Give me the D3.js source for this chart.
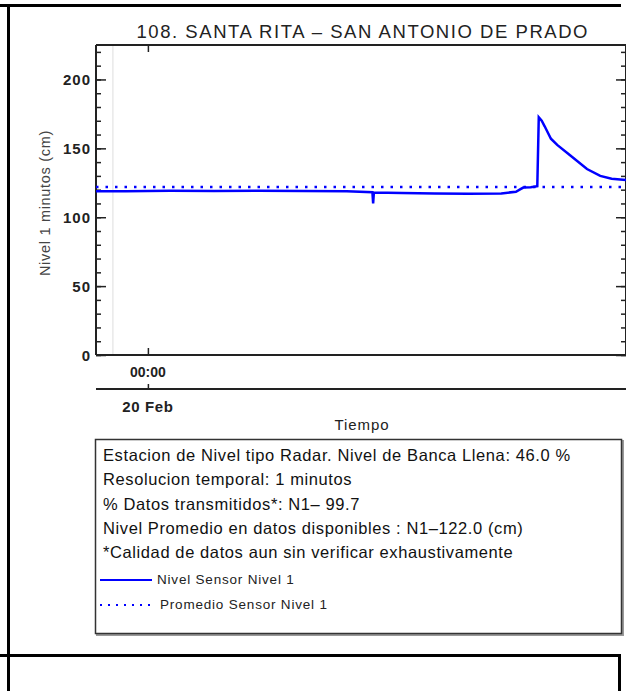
<!DOCTYPE html>
<html><head><meta charset="utf-8">
<script src="https://cdn.jsdelivr.net/npm/d3@7"></script>
<style>body{margin:0;background:#fff}svg{display:block;font-family:"Liberation Sans",Arial,sans-serif}</style>
</head><body><svg id="c" width="626" height="691"></svg>
<script>
const titleText = "108. SANTA RITA \u2013 SAN ANTONIO DE PRADO";
const yLabel = "Nivel 1 minutos (cm)";
const xLabel = "Tiempo";
const timeDomain = ["2024-02-19T21:39", "2024-02-20T21:39"];
const dataStart = "2024-02-19T22:25";
const yTicks = [0, 50, 100, 150, 200];
const xTickTime = ["2024-02-20T00:00"];
const xTickLabel = ["00:00"];
const dateLabel = ["20 Feb"];
const times = ["2024-02-19T21:39","2024-02-19T23:00","2024-02-20T01:00","2024-02-20T03:00","2024-02-20T05:00","2024-02-20T07:00","2024-02-20T09:00","2024-02-20T10:10","2024-02-20T10:12","2024-02-20T10:14","2024-02-20T11:30","2024-02-20T13:00","2024-02-20T14:30","2024-02-20T16:00","2024-02-20T16:40","2024-02-20T16:50","2024-02-20T17:00","2024-02-20T17:20","2024-02-20T17:38","2024-02-20T17:42","2024-02-20T17:50","2024-02-20T17:58","2024-02-20T18:15","2024-02-20T18:32","2024-02-20T19:07","2024-02-20T19:53","2024-02-20T20:29","2024-02-20T21:00","2024-02-20T21:39"];
const nivel = [118.8,118.8,119.2,119.0,119.3,119.0,118.8,118.2,110.0,118.0,117.6,117.2,117.0,117.3,118.5,120.0,121.5,121.8,122.5,172.5,170.0,166.0,157.0,152.5,145.0,135.0,130.0,128.0,127.0];
const promedio = 122.0;
const infoLines = ["Estacion de Nivel tipo Radar. Nivel de Banca Llena: 46.0 %","Resolucion temporal: 1 minutos","% Datos transmitidos*: N1\u2013 99.7","Nivel Promedio en datos disponibles : N1\u2013122.0 (cm)","*Calidad de datos aun sin verificar exhaustivamente"];
const legendNames = ["Nivel Sensor Nivel 1","Promedio Sensor Nivel 1"];

const svg = d3.select("#c");
const P = d3.isoParse;
const L = 96, R = 626, T = 45, B = 355;
const x = d3.scaleTime().domain(timeDomain.map(P)).range([L, R]);
const y = d3.scaleLinear().domain([0, 225]).range([B, T]);
const axisCol = "#222";

// outer frame
svg.append("line").attr("x1",0).attr("x2",621).attr("y1",5.5).attr("y2",5.5).attr("stroke","#000").attr("stroke-width",3);
svg.append("line").attr("x1",8.5).attr("x2",8.5).attr("y1",4).attr("y2",691).attr("stroke","#000").attr("stroke-width",3);
svg.append("line").attr("x1",0).attr("x2",621).attr("y1",655.5).attr("y2",655.5).attr("stroke","#000").attr("stroke-width",3);
svg.append("line").attr("x1",619.5).attr("x2",619.5).attr("y1",654).attr("y2",691).attr("stroke","#000").attr("stroke-width",3);

// title
svg.append("text").attr("x",362).attr("y",38).attr("text-anchor","middle").attr("font-size",18.5)
  .attr("textLength",451).attr("lengthAdjust","spacing").attr("fill","#222").text(titleText);

// faint data-start line
svg.append("line").attr("x1",x(P(dataStart))).attr("x2",x(P(dataStart))).attr("y1",T).attr("y2",B).attr("stroke","#ddd").attr("stroke-width",1);

// y axes
const yMinor = d3.range(0, 226, 10);
const gl = svg.append("g").attr("transform",`translate(${L},0)`)
  .call(d3.axisRight(y).tickValues(yMinor).tickSize(5).tickFormat(""));
const gl2 = svg.append("g").attr("transform",`translate(${L},0)`)
  .call(d3.axisRight(y).tickValues(yTicks).tickSize(10).tickFormat(""));
const gr = svg.append("g").attr("transform",`translate(${R},0)`)
  .call(d3.axisLeft(y).tickValues(yMinor).tickSize(5).tickFormat(""));
const gr2 = svg.append("g").attr("transform",`translate(${R},0)`)
  .call(d3.axisLeft(y).tickValues(yTicks).tickSize(10).tickFormat(""));
[gl,gl2,gr,gr2].forEach(g=>{g.selectAll("path").remove();g.selectAll("line").attr("stroke",axisCol).attr("stroke-width",1.5);});
svg.append("g").selectAll("text").data(yTicks).join("text")
  .attr("x",L-5).attr("y",d=>y(d)+5.5).attr("text-anchor","end").attr("font-size",15).attr("letter-spacing",1)
  .attr("font-weight","bold").attr("fill","#222").text(d=>d);

// x axes (bottom, top)
const gb = svg.append("g").attr("transform",`translate(0,${B})`)
  .call(d3.axisTop(x).tickValues(xTickTime.map(P)).tickSize(7).tickFormat(""));
const gt = svg.append("g").attr("transform",`translate(0,${T})`)
  .call(d3.axisBottom(x).tickValues(xTickTime.map(P)).tickSize(7).tickFormat(""));
const gd = svg.append("g").attr("transform",`translate(0,389)`)
  .call(d3.axisTop(x).tickValues(xTickTime.map(P)).tickSize(5).tickFormat(""));
[gb,gt,gd].forEach(g=>{g.selectAll("path").remove();g.selectAll("line").attr("stroke",axisCol).attr("stroke-width",1.5);});
svg.append("line").attr("x1",L).attr("x2",R).attr("y1",B).attr("y2",B).attr("stroke",axisCol).attr("stroke-width",2);
svg.append("line").attr("x1",L).attr("x2",R).attr("y1",T).attr("y2",T).attr("stroke",axisCol).attr("stroke-width",2);
svg.append("line").attr("x1",L).attr("x2",L).attr("y1",T).attr("y2",B).attr("stroke",axisCol).attr("stroke-width",2);
svg.append("line").attr("x1",R).attr("x2",R).attr("y1",T).attr("y2",B).attr("stroke",axisCol).attr("stroke-width",2);
svg.append("line").attr("x1",L).attr("x2",R).attr("y1",389).attr("y2",389).attr("stroke",axisCol).attr("stroke-width",2);
svg.selectAll(".xl").data(xTickTime).join("text").attr("x",d=>x(P(d))).attr("y",377).attr("text-anchor","middle").attr("font-size",14).attr("font-weight","bold").attr("fill","#222").text((d,i)=>xTickLabel[i]);
svg.selectAll(".dl").data(xTickTime).join("text").attr("x",d=>x(P(d))).attr("y",412).attr("text-anchor","middle").attr("font-size",15).attr("letter-spacing",0.6).attr("font-weight","bold").attr("fill","#222").text((d,i)=>dateLabel[i]);
svg.append("text").attr("x",362).attr("y",430).attr("text-anchor","middle").attr("font-size",15).attr("letter-spacing",0.9).attr("fill","#222").text(xLabel);
svg.append("text").attr("transform","translate(50,203) rotate(-90)").attr("text-anchor","middle").attr("font-size",14.5).attr("letter-spacing",0.7).attr("fill","#444").text(yLabel);

// series
const data = times.map((t,i)=>({t:P(t), v:nivel[i]}));
svg.append("path").datum(data).attr("fill","none").attr("stroke","#0000ff").attr("stroke-width",2.5)
  .attr("d", d3.line().x(d=>x(d.t)).y(d=>y(d.v)));
svg.append("line").attr("x1",L).attr("x2",R).attr("y1",y(promedio)).attr("y2",y(promedio))
  .attr("stroke","#0000ff").attr("stroke-width",2.5).attr("stroke-dasharray","2.5,7");

// legend box
svg.append("rect").attr("x",97).attr("y",441).attr("width",526).attr("height",194).attr("fill","none").attr("stroke","#999").attr("stroke-width",2);
svg.append("rect").attr("x",95.5).attr("y",439.5).attr("width",526).attr("height",194).attr("fill","#fff").attr("stroke","#333").attr("stroke-width",1.5);
svg.selectAll(".info").data(infoLines).join("text").attr("x",103).attr("y",(d,i)=>461+i*24.3).attr("font-size",16.5).attr("letter-spacing",0.6).attr("fill","#111").text(d=>d);
svg.append("line").attr("x1",100).attr("x2",152).attr("y1",580).attr("y2",580).attr("stroke","#0000ff").attr("stroke-width",2);
svg.append("line").attr("x1",100).attr("x2",152).attr("y1",605).attr("y2",605).attr("stroke","#0000ff").attr("stroke-width",2).attr("stroke-dasharray","2,6");
svg.selectAll(".lg").data(legendNames).join("text").attr("x",(d,i)=>i?160:157).attr("y",(d,i)=>584+i*25).attr("font-size",13.5).attr("letter-spacing",0.8).attr("fill","#222").text(d=>d);
</script></body></html>
